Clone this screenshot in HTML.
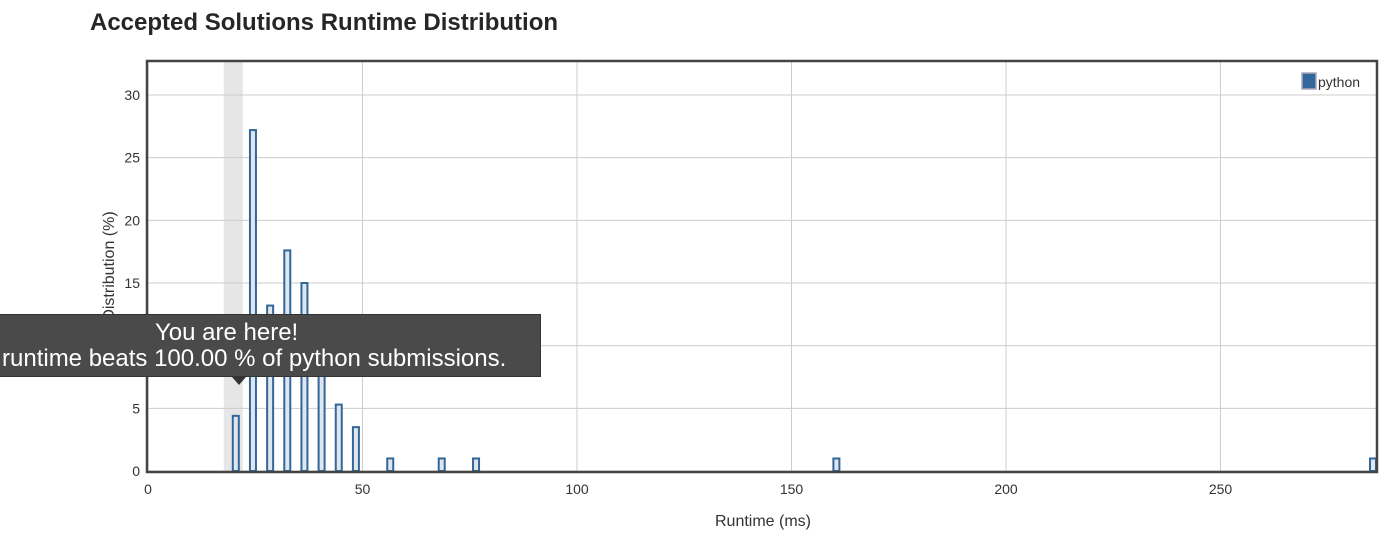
<!DOCTYPE html>
<html><head><meta charset="utf-8"><style>
body{margin:0;background:#fff;width:1400px;height:536px;overflow:hidden;font-family:"Liberation Sans",sans-serif;}
#title{position:absolute;left:90px;top:9px;font-size:24px;font-weight:bold;color:#262626;}
#tip{position:absolute;left:0;top:314px;width:541px;height:63px;background:#4a4a4a;border:1px solid #333;border-left:none;color:#fff;font-size:24px;line-height:26px;box-sizing:border-box;padding-top:5px;overflow:hidden;}
.ln{white-space:nowrap;}
#arrow{position:absolute;left:232px;top:377px;width:0;height:0;border-left:7px solid transparent;border-right:7px solid transparent;border-top:8px solid #333;}
</style></head><body>
<div id="title">Accepted Solutions Runtime Distribution</div>
<svg id="chart" width="1400" height="536" style="position:absolute;left:0;top:0"></svg>
<div id="tip"><div class="ln" style="padding-left:155px">You are here!</div><div class="ln" style="padding-left:2px">runtime beats 100.00 % of python submissions.</div></div>
<div id="arrow"></div>
<script>
const runtimes=[20,24,28,32,36,40,44,48,56,68,76,160,286];
const percents=[4.4,27.2,13.2,17.6,15.0,9.0,5.3,3.5,1,1,1,1,1];
const xTicks=[0,50,100,150,200,250];
const yTicks=[0,5,10,15,20,25,30];
const yourRuntime=20;
const NS="http://www.w3.org/2000/svg";
const svg=document.getElementById('chart');
const L=148,R=1376,T=62,B=471;
const xs=v=>L+v*(577-148)/100;
const ys=v=>B-v*(471-95)/30;
function mk(t,a){const e=document.createElementNS(NS,t);for(const k in a)e.setAttribute(k,a[k]);svg.appendChild(e);return e;}
let hl=mk('rect',{x:xs(yourRuntime)-10,y:T,width:19,height:B-T,fill:'#e6e6e6'});


yTicks.forEach(v=>{
 let g=mk('line',{x1:L,x2:R,y1:ys(v),y2:ys(v),stroke:'#ccc','stroke-width':1});
 
 
 let t=mk('text',{x:L-8,y:ys(v)+5,'text-anchor':'end','font-size':14,fill:'#333'});t.textContent=v;
 
 
});
xTicks.forEach(v=>{
 let g=mk('line',{x1:xs(v),x2:xs(v),y1:T,y2:B,stroke:'#ccc','stroke-width':1});
 
 
 let t=mk('text',{x:xs(v),y:B+23,'text-anchor':'middle','font-size':14,fill:'#333'});t.textContent=v;
 
 
});
runtimes.forEach((r,i)=>{
 const y=ys(percents[i]);
 let b=mk('rect',{x:Math.min(xs(r)-1,R-6),y:y,width:6,height:B-y,fill:'#dfe6ee',stroke:'#336699','stroke-width':2});
 
 
});
let fr=mk('rect',{x:L-1,y:T-1,width:R-L+2,height:B-T+2,fill:'none',stroke:'#444','stroke-width':2.5});


let lg=mk('rect',{x:1302,y:73,width:14,height:16,fill:'#336699',stroke:'#aab','stroke-width':1.5});


let lt=mk('text',{x:1318,y:87,'font-size':14,fill:'#333'});lt.textContent='python';


let xt=mk('text',{x:763,y:526,'text-anchor':'middle','font-size':16,fill:'#333'});xt.textContent='Runtime (ms)';


let yt=mk('text',{x:0,y:0,'text-anchor':'middle','font-size':16,fill:'#333',transform:'translate(114,266) rotate(-90)'});yt.textContent='Distribution (%)';


</script>
</body></html>
